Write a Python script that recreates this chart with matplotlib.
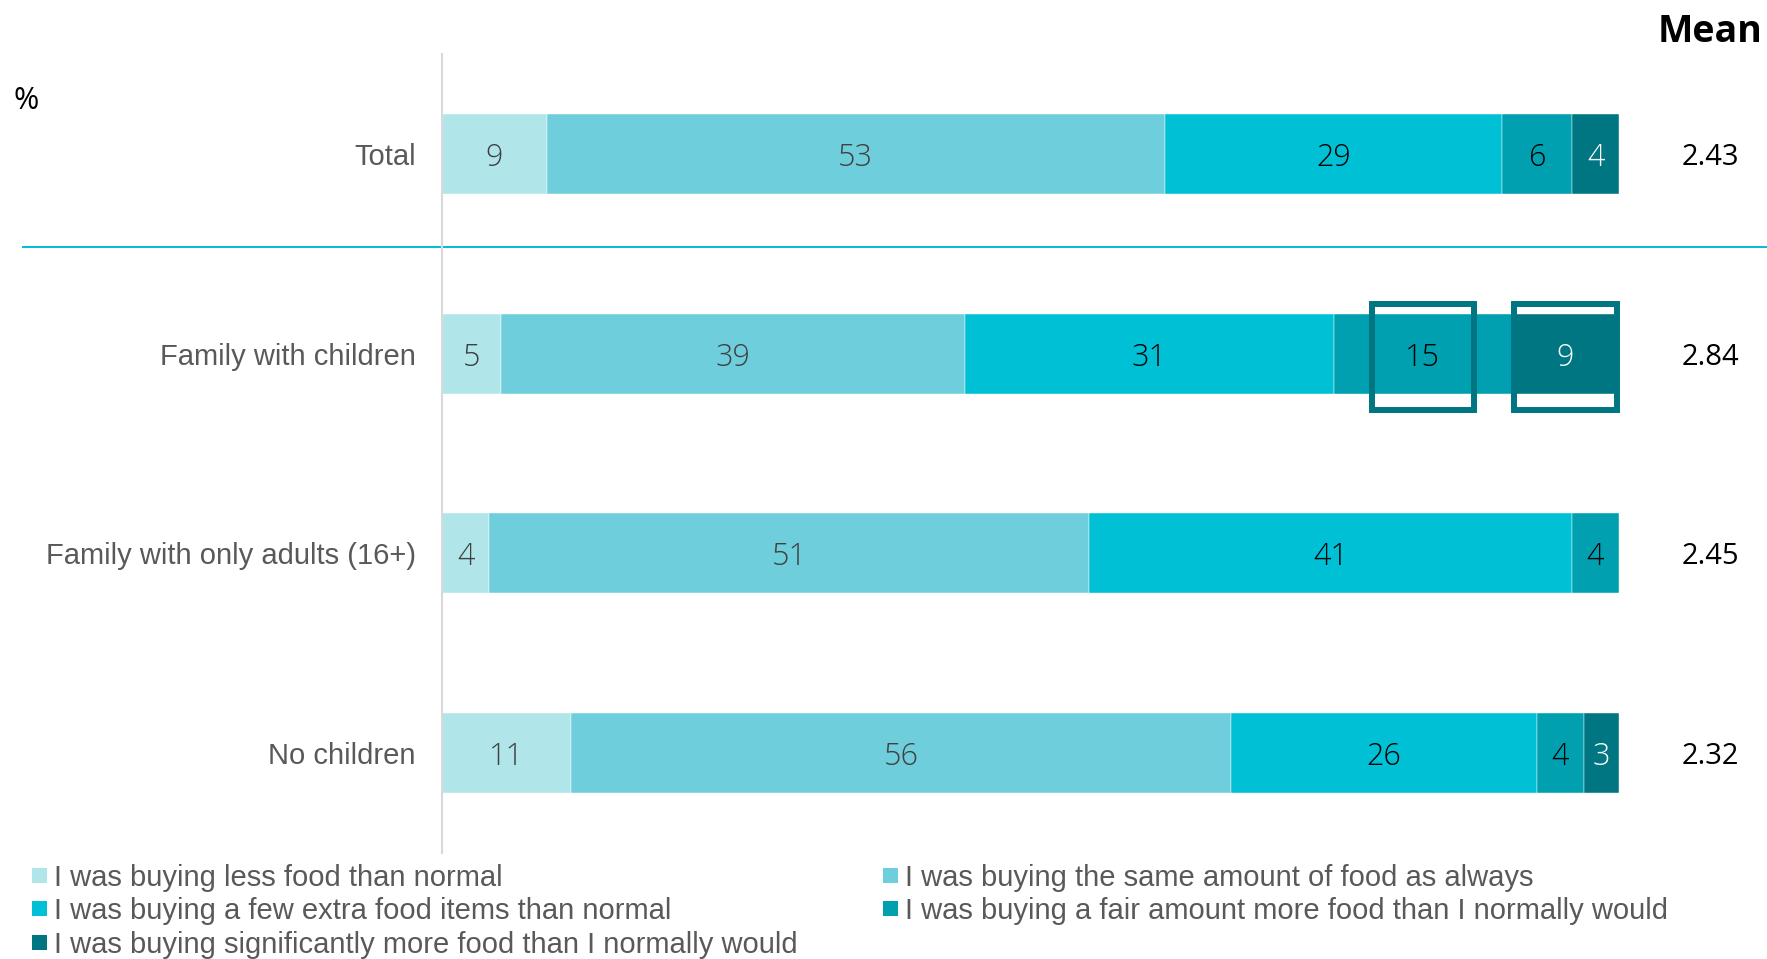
"""Stacked 100% bars: food buying behaviour by household type, with mean scores."""

import matplotlib

matplotlib.use("Agg")
import matplotlib.pyplot as plt
from matplotlib.patches import Rectangle
from matplotlib.transforms import blended_transform_factory


GROUPS = ["Total", "Family with children", "Family with only adults (16+)", "No children"]
RESPONSES = [
    "I was buying less food than normal",
    "I was buying the same amount of food as always",
    "I was buying a few extra food items than normal",
    "I was buying a fair amount more food than I normally would",
    "I was buying significantly more food than I normally would",
]
# percent per response, one list per group (0 = no label / not shown)
SHARES = [
    [9, 53, 29, 6, 4],
    [5, 39, 31, 15, 9],
    [4, 51, 41, 4, 0],
    [11, 56, 26, 4, 3],
]
MEANS = [2.43, 2.84, 2.45, 2.32]
# (group index, response index) pairs that get an outline box
HIGHLIGHTS = [(1, 3), (1, 4)]

COLORS = ["#B0E6EA", "#6FCEDC", "#00C0D5", "#00A0B0", "#007682"]
LABEL_COLORS = ["#404040", "#404040", "#000000", "#000000", "#FFFFFF"]

W, H = 1767, 959
DPI = 100
NUM_FONT = ["Open Sans", "DejaVu Sans"]
TEXT_FONT = ["Liberation Sans", "DejaVu Sans"]


def main():
    fig = plt.figure(figsize=(W / DPI, H / DPI), dpi=DPI)
    ax = fig.add_axes([442 / W, 1 - 853 / H, 1177 / W, 799 / H])

    bar_h = 0.40
    for row, values in enumerate(SHARES):
        total = sum(values)
        left = 0.0
        for k, v in enumerate(values):
            if v == 0:
                continue
            width = v / total * 100
            ax.barh(row, width, left=left, height=bar_h, color=COLORS[k],
                    edgecolor="#FFFFFF", linewidth=0.3)
            ax.text(left + width / 2, row, f"{v}", ha="center",
                    va="center_baseline", fontsize=22, color=LABEL_COLORS[k],
                    family=NUM_FONT, fontweight="light")
            if (row, k) in HIGHLIGHTS:
                box_w = 8.7
                ax.add_patch(Rectangle((left + width / 2 - box_w / 2, row - 0.25),
                                       box_w, 0.53, fill=False,
                                       edgecolor="#007682", linewidth=4.3,
                                       zorder=5, clip_on=False))
            left += width

    ax.set_xlim(0, 100)
    ax.set_ylim(3.5, -0.5)
    ax.set_yticks(range(len(GROUPS)))
    ax.set_yticklabels(GROUPS, family=TEXT_FONT, fontsize=21, color="#595959")
    ax.tick_params(axis="y", length=0, pad=19)
    ax.set_xticks([])
    for side in ["top", "right", "bottom"]:
        ax.spines[side].set_visible(False)
    ax.spines["left"].set_color("#D9D9D9")
    ax.spines["left"].set_linewidth(1.5)

    # mean column on the right
    fig_y = blended_transform_factory(fig.transFigure, ax.transData)
    for row, m in enumerate(MEANS):
        ax.text(1710 / W, row, f"{m:.2f}", transform=fig_y, ha="center",
                va="center_baseline", fontsize=21, color="#000000",
                family=NUM_FONT)
    fig.text(1762 / W, 1 - 32 / H, "Mean", ha="right", va="center",
             fontsize=27, fontweight="bold", family=NUM_FONT)
    fig.text(13 / W, 1 - 101 / H, "%", ha="left", va="center", fontsize=22,
             family=NUM_FONT)

    # separator between the total and the breakdown
    ax.plot([23 / W, 1.0], [0.465, 0.465], transform=fig_y, color="#00BCD8",
            linewidth=1.4, clip_on=False)

    # legend laid out row by row in two columns
    col_x = [32, 883]
    row_y = [875, 908, 942]
    for i, label in enumerate(RESPONSES):
        x = col_x[i % 2]
        y = row_y[i // 2]
        fig.patches.append(Rectangle((x / W, 1 - (y + 7.5) / H), 15 / W, 15 / H,
                                     transform=fig.transFigure,
                                     facecolor=COLORS[i], edgecolor="none"))
        fig.text((x + 22) / W, 1 - y / H, label, ha="left", va="center_baseline",
                 fontsize=21, color="#595959", family=TEXT_FONT)

    fig.savefig("out.png", dpi=DPI)
    plt.close(fig)


if __name__ == "__main__":
    main()
